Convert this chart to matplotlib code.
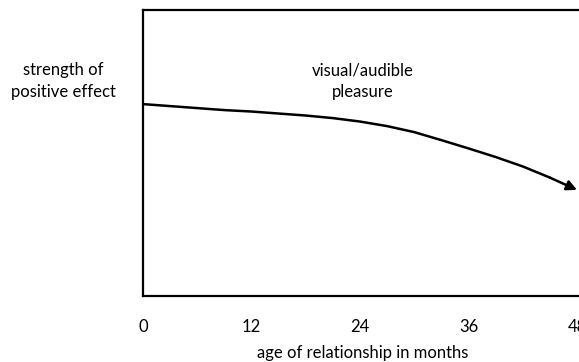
import matplotlib
matplotlib.use('Agg')
import matplotlib.pyplot as plt

# values (months vs relative strength)
months = [0, 3, 6, 9, 12, 15, 18, 21, 24, 27, 30, 33, 36, 39, 42, 45, 48]
strength = [0.671, 0.664, 0.657, 0.650, 0.645, 0.638, 0.631, 0.622, 0.610,
            0.594, 0.573, 0.545, 0.516, 0.486, 0.453, 0.414, 0.371]
tick_months = [0, 12, 24, 36, 48]
tick_labels = ['0', '12', '24', '36', '48']

plt.rcParams['font.family'] = ['Lato', 'DejaVu Sans']

W, H = 579, 362
fig = plt.figure(figsize=(W / 100, H / 100), dpi=100)
# box runs off the right edge of the picture
left, right, top, bottom = 143, 590, 10, 296
ax = fig.add_axes([left / W, 1 - bottom / H, (right - left) / W, (bottom - top) / H])
xmax = 48 * (right - left) / (577 - left)
ax.set_xlim(0, xmax)
ax.set_ylim(0, 1)
for s in ax.spines.values():
    s.set_linewidth(1.6)
    s.set_color('black')
ax.set_yticks([])
ax.set_xticks([])

# curve, last segment carries the arrowhead
ax.plot(months[:-1], strength[:-1], color='black', lw=1.8,
        solid_capstyle='round', solid_joinstyle='round')
ax.annotate('', xy=(months[-1], strength[-1]), xytext=(months[-2], strength[-2]),
            arrowprops=dict(arrowstyle='-|>', color='black', lw=1.8,
                            mutation_scale=15, shrinkA=0, shrinkB=0))

for m, lab in zip(tick_months, tick_labels):
    ax.text(m, -0.11, lab, ha='center', va='center', fontsize=12,
            transform=ax.get_xaxis_transform(), clip_on=False)

fig.text(363 / W, 1 - 353 / H, 'age of relationship in months', ha='center', va='center',
         fontsize=12)
fig.text(63 / W, 1 - 81 / H, 'strength of\npositive effect', ha='center', va='center',
         fontsize=12, linespacing=1.4)
fig.text(363 / W, 1 - 81 / H, 'visual/audible\npleasure', ha='center', va='center',
         fontsize=12, linespacing=1.4)

fig.savefig('out.png', dpi=100)
